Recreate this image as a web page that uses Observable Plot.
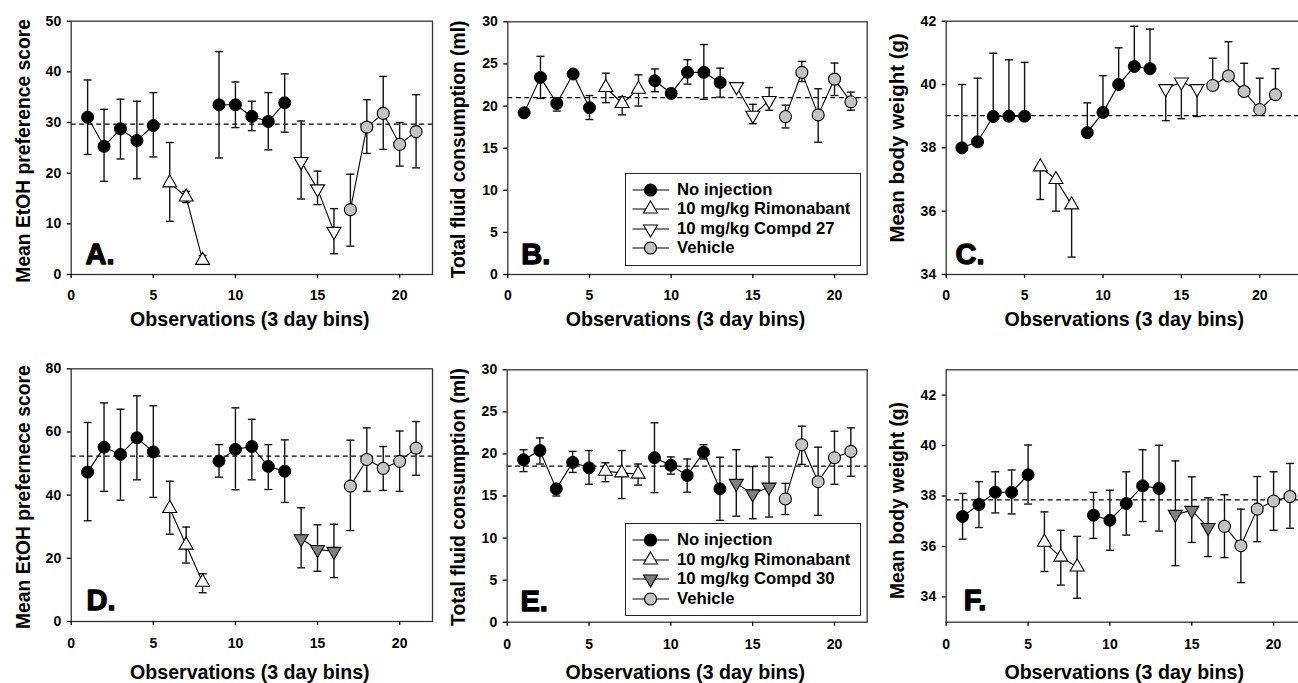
<!DOCTYPE html>
<html><head><meta charset="utf-8">
<script src="https://cdn.jsdelivr.net/npm/d3@7"></script>
<script src="https://cdn.jsdelivr.net/npm/@observablehq/plot@0.6"></script>
<style>
html,body{margin:0;padding:0;background:#fff;overflow:hidden;}
#root{position:relative;width:1298px;height:683px;overflow:hidden;font-family:"Liberation Sans",Arial,Helvetica,sans-serif;font-weight:bold;}
.panel{position:absolute;}
.legend{position:absolute;border:1.3px solid #222;background:#fff;box-sizing:border-box;}
.legend .lab{position:absolute;font:bold 16.7px "Liberation Sans",Arial,sans-serif;line-height:20px;white-space:nowrap;color:#000;}
</style></head><body><div id="root"></div><script>
// ---------- data ----------
const obs = [1,2,3,4,5,6,7,8,9,10,11,12,13,14,15,16,17,18,19,20,21];
const groups = ["none","none","none","none","none","rimo","rimo","rimo","none","none","none","none","none","compd","compd","compd","veh","veh","veh","veh","veh"];
const segs = [0,0,0,0,0,1,1,1,2,2,2,2,2,3,3,3,4,4,4,4,4];

// A: EtOH preference (Compd 27 study)
const A_mean = [31.05,25.3,28.75,26.45,29.4,18.1,15.3,2.8,33.5,33.5,31.2,30.2,33.9,22.3,16.9,8.5,12.8,29.1,31.8,25.7,28.2];
const A_hi   = [38.4,32.6,34.6,34.2,35.9,26.05,16.4,3.75,44.0,38.0,34.2,35.9,39.6,30.3,20.4,13.0,19.8,34.5,39.1,30.0,35.5];
const A_lo   = [23.7,18.4,22.8,18.9,23.2,10.5,14.2,2.0,23.0,29.0,28.4,24.6,28.1,14.9,13.8,4.1,5.6,23.9,24.7,21.4,21.05];
const A_base = 29.7;
// B: total fluid consumption (Compd 27 study)
const B_mean = [19.2,23.4,20.3,23.8,19.8,22.2,20.3,22.0,23.0,21.5,24.0,24.0,22.8,22.3,18.9,20.65,18.75,24.0,18.95,23.2,20.5];
const B_hi   = [19.4,25.9,21.0,24.0,21.25,23.9,21.1,23.7,24.4,21.7,25.5,27.3,24.5,22.5,20.2,22.2,20.1,25.3,22.05,25.1,21.65];
const B_lo   = [19.0,20.9,19.4,23.6,18.4,20.4,18.95,20.0,21.7,21.3,22.6,20.8,21.05,22.1,17.9,19.5,17.4,22.9,15.7,21.25,19.5];
const B_base = 21.0;
// C: body weight (Compd 27 study), one-sided error bars
const C_mean = [38.0,38.19,38.99,39.0,39.0,37.4,37.0,36.2,38.48,39.12,40.0,40.57,40.5,39.87,40.08,39.87,39.97,40.27,39.78,39.21,39.68];
const C_hi   = [40.0,40.2,40.99,40.78,40.7,null,null,null,39.42,40.28,41.16,41.84,41.75,null,null,null,40.83,41.35,40.67,40.2,40.5];
const C_lo   = [null,null,null,null,null,36.37,36.0,34.55,null,null,null,null,null,38.86,38.92,38.99,null,null,null,null,null];
const C_base = 39.02;
// D: EtOH preference (Compd 30 study)
const D_mean = [47.3,55.2,52.9,58.15,53.7,35.8,24.2,12.45,50.8,54.5,55.4,49.1,47.6,26.2,22.8,22.2,42.85,51.3,48.5,50.7,54.9];
const D_hi   = [63.0,69.2,67.2,71.45,68.3,44.4,29.9,15.1,56.0,67.65,64.0,56.0,57.5,36.0,30.6,30.8,57.4,61.3,55.4,60.3,63.3];
const D_lo   = [31.9,41.2,38.4,44.85,39.3,27.65,18.5,9.1,45.7,41.7,44.85,41.8,37.7,17.0,15.9,13.9,28.8,41.2,41.5,41.2,46.3];
const D_base = 52.35;
// E: total fluid consumption (Compd 30 study)
const E_mean = [19.3,20.4,15.85,19.0,18.35,17.95,17.75,17.6,19.55,18.65,17.45,20.2,15.85,16.5,15.25,16.05,14.65,21.1,16.7,19.55,20.3];
const E_hi   = [20.5,21.9,16.4,20.3,20.4,18.95,20.4,18.8,23.7,19.65,19.4,21.1,19.6,20.5,18.5,19.6,16.5,23.3,20.8,22.7,23.1];
const E_lo   = [17.9,18.8,15.0,17.8,16.4,16.7,14.7,16.3,15.4,17.6,15.45,19.4,12.1,12.6,12.3,12.5,12.8,18.75,12.7,16.4,17.35];
const E_base = 18.55;
// F: body weight (Compd 30 study)
const F_mean = [37.19,37.66,38.15,38.15,38.84,36.17,35.58,35.19,37.24,37.04,37.7,38.4,38.3,37.27,37.43,36.75,36.8,36.03,37.48,37.8,37.98];
const F_hi   = [38.1,38.57,38.96,39.03,40.02,37.37,36.64,36.4,38.14,38.23,38.96,39.83,40.01,39.39,38.76,37.93,38.05,37.48,38.77,38.96,39.29];
const F_lo   = [36.29,36.75,37.33,37.29,37.68,35.01,34.47,33.95,36.32,35.85,36.45,36.99,36.61,35.24,36.16,35.6,35.56,34.57,36.19,36.64,36.72];
const F_base = 37.85;

const xTicks = [0,5,10,15,20];
const legendTop = ["No injection","10 mg/kg Rimonabant","10 mg/kg Compd 27","Vehicle"];
const legendBottom = ["No injection","10 mg/kg Rimonabant","10 mg/kg Compd 30","Vehicle"];
const xTitle = "Observations (3 day bins)";

// ---------- styles ----------
const FONT = '"Liberation Sans", Arial, Helvetica, sans-serif';
const BLACK = "#000", WHITE = "#fff", DARK = "#7f7f7f", LIGHT = "#c4c4c4";
const S3 = Math.sqrt(3);
const triDown = { draw(ctx, size) { const y = Math.sqrt(size / (S3 * 3)); ctx.moveTo(0, 2 * y); ctx.lineTo(-S3 * y, -y); ctx.lineTo(S3 * y, -y); ctx.closePath(); } };
const capSym = { draw(ctx) { ctx.moveTo(-4, 0); ctx.lineTo(4, 0); } };
const CIRCLE_R = 6, TRI_R = 5.2;

const panels = [
  {mean:A_mean, hi:A_hi, lo:A_lo, base:A_base, compdFill:WHITE, left:0, top:0, w:440, h:340, frame:[70.7,432,20.7,274], xDomain:[0,22], yDomain:[0,50], yTicks:[0,10,20,30,40,50], yTitle:"Mean EtOH preference score", yDx:-41.4, yDy:3, ySize:19.3, xDx:-2, xDy:51.3, letter:"A.", lDx:14.3, lDy:-10.7, xPad:12},
  {mean:B_mean, hi:B_hi, lo:B_lo, base:B_base, compdFill:WHITE, left:440, top:0, w:430, h:340, frame:[507.3,866.7,21.3,274], xDomain:[0,22], yDomain:[0,30], yTicks:[0,5,10,15,20,25,30], yTitle:"Total fluid consumption (ml)", yDx:-43, yDy:1.3, ySize:19.3, xDx:-2, xDy:51.3, letter:"B.", lDx:13.4, lDy:-10.7, xPad:12},
  {mean:C_mean, hi:C_hi, lo:C_lo, base:C_base, compdFill:WHITE, left:870, top:0, w:445, h:340, frame:[945.7,1306.3,20.7,274], xDomain:[0,23], yDomain:[34,42], yTicks:[34,36,38,40,42], yTitle:"Mean body weight (g)", yDx:-42.4, yDy:-10, ySize:20.5, xDx:-2.3, xDy:51.3, letter:"C.", lDx:9.3, lDy:-10.7, xPad:12},
  {mean:D_mean, hi:D_hi, lo:D_lo, base:D_base, compdFill:DARK, left:0, top:340, w:440, h:343, frame:[70.7,432,368.3,621], xDomain:[0,22], yDomain:[0,80], yTicks:[0,20,40,60,80], yTitle:"Mean EtOH prefernece score", yDx:-41.4, yDy:2, ySize:19.3, xDx:-2, xDy:57.6, letter:"D.", lDx:15.3, lDy:-11.7, xPad:13},
  {mean:E_mean, hi:E_hi, lo:E_lo, base:E_base, compdFill:DARK, left:440, top:340, w:430, h:343, frame:[506.7,866.7,369.3,621.7], xDomain:[0,22], yDomain:[0,30], yTicks:[0,5,10,15,20,25,30], yTitle:"Total fluid consumption (ml)", yDx:-42.4, yDy:1, ySize:19.3, xDx:-2, xDy:56.9, letter:"E.", lDx:13.3, lDy:-11.7, xPad:13},
  {mean:F_mean, hi:F_hi, lo:F_lo, base:F_base, compdFill:DARK, left:870, top:340, w:460, h:343, frame:[945.7,1322.2,369.3,621.7], xDomain:[0,23], yDomain:[33,43], yTicks:[34,36,38,40,42], yTitle:"Mean body weight (g)", yDx:-42.4, yDy:4.5, ySize:19.3, xDx:-10.3, xDy:56.9, letter:"F.", lDx:17.6, lDy:-12.4, xPad:13}
];

const root = document.getElementById("root");

for (const p of panels) {
  const rows = obs.map((o, i) => ({obs:o, mean:p.mean[i], hi:p.hi[i], lo:p.lo[i], group:groups[i], seg:segs[i]}));
  const caps = [];
  rows.forEach(r => { if (r.hi != null) caps.push({obs:r.obs, v:r.hi}); if (r.lo != null) caps.push({obs:r.obs, v:r.lo}); });
  const [fx0, fx1, fy0, fy1] = p.frame;
  const chart = Plot.plot({
    width: p.w, height: p.h,
    marginLeft: fx0 - p.left, marginRight: p.left + p.w - fx1,
    marginTop: fy0 - p.top, marginBottom: p.top + p.h - fy1,
    x: {domain: p.xDomain},
    y: {domain: p.yDomain},
    style: {fontFamily: FONT, fontWeight: "bold", background: "transparent", overflow: "visible", maxWidth: "none", color: "#000"},
    marks: [
      Plot.ruleY([p.base], {stroke: "#000", strokeWidth: 1.2, strokeDasharray: "5,3.5"}),
      Plot.ruleX(rows, {x: "obs", y1: r => r.lo ?? r.mean, y2: r => r.hi ?? r.mean, stroke: "#111", strokeWidth: 1.4}),
      Plot.dot(caps, {x: "obs", y: "v", symbol: capSym, r: 4, stroke: "#111", strokeWidth: 1.4, fill: "none"}),
      Plot.line(rows, {x: "obs", y: "mean", z: "seg", stroke: "#000", strokeWidth: 1.1}),
      Plot.dot(rows.filter(r => r.group === "none"), {x: "obs", y: "mean", r: CIRCLE_R, fill: BLACK, stroke: "#000", strokeWidth: 1}),
      Plot.dot(rows.filter(r => r.group === "rimo"), {x: "obs", y: "mean", r: TRI_R, symbol: "triangle", fill: WHITE, stroke: "#000", strokeWidth: 1.1}),
      Plot.dot(rows.filter(r => r.group === "compd"), {x: "obs", y: "mean", r: TRI_R, symbol: triDown, fill: p.compdFill, stroke: "#000", strokeWidth: 1.1}),
      Plot.dot(rows.filter(r => r.group === "veh"), {x: "obs", y: "mean", r: CIRCLE_R, fill: LIGHT, stroke: "#000", strokeWidth: 1.1}),
      Plot.frame({stroke: "#333", strokeWidth: 1.3}),
      Plot.axisX({ticks: xTicks, tickSize: 4, tickPadding: p.xPad, label: null, fontSize: 14, color: "#000", strokeWidth: 1.3, tickFormat: d => String(d)}),
      Plot.axisY({ticks: p.yTicks, tickSize: 4, tickPadding: 6, label: null, fontSize: 14, color: "#000", strokeWidth: 1.3, tickFormat: d => String(d)}),
      Plot.text([xTitle], {text: d => d, frameAnchor: "bottom", textAnchor: "middle", lineAnchor: "bottom", dx: p.xDx, dy: p.xDy, fontSize: 19.6, fill: "#000"}),
      Plot.text([p.yTitle], {text: d => d, frameAnchor: "left", rotate: -90, textAnchor: "middle", lineAnchor: "bottom", dx: p.yDx, dy: p.yDy, fontSize: p.ySize, fill: "#000"}),
      Plot.text([p.letter], {text: d => d, frameAnchor: "bottom-left", textAnchor: "start", lineAnchor: "bottom", dx: p.lDx, dy: p.lDy, fontSize: 29, fill: "#000", stroke: "#000", strokeWidth: 1.3})
    ]
  });
  const holder = document.createElement("div");
  holder.className = "panel";
  holder.style.left = p.left + "px";
  holder.style.top = p.top + "px";
  holder.appendChild(chart);
  root.appendChild(holder);
}

// ---------- legends ----------
function makeLegend(box, labels, compdFill) {
  const div = document.createElement("div");
  div.className = "legend";
  Object.assign(div.style, {left: box[0] + "px", top: box[1] + "px", width: box[2] + "px", height: box[3] + "px"});
  const types = [d3.symbolCircle, d3.symbolTriangle, triDown, d3.symbolCircle];
  const sizes = [Math.PI * CIRCLE_R * CIRCLE_R, Math.PI * TRI_R * TRI_R, Math.PI * TRI_R * TRI_R, Math.PI * CIRCLE_R * CIRCLE_R];
  const fills = [BLACK, WHITE, compdFill, LIGHT];
  labels.forEach((lab, i) => {
    const cy = 16 + i * 19.6;
    const svg = d3.create("svg").attr("width", 42).attr("height", 20)
      .style("position", "absolute").style("left", "5px").style("top", (cy - 10) + "px").style("overflow", "visible");
    svg.append("line").attr("x1", 1.5).attr("x2", 38).attr("y1", 10).attr("y2", 10).attr("stroke", "#000").attr("stroke-width", 1.1);
    svg.append("path").attr("transform", "translate(19.5,10)").attr("d", d3.symbol(types[i], sizes[i])())
      .attr("fill", fills[i]).attr("stroke", "#000").attr("stroke-width", 1.1);
    div.appendChild(svg.node());
    const t = document.createElement("div");
    t.className = "lab";
    t.textContent = lab;
    t.style.left = "51px";
    t.style.top = (cy - 10) + "px";
    div.appendChild(t);
  });
  root.appendChild(div);
}
makeLegend([625, 172.7, 235.7, 93], legendTop, WHITE);
makeLegend([625, 523.3, 235.7, 92.7], legendBottom, DARK);
</script></body></html>
